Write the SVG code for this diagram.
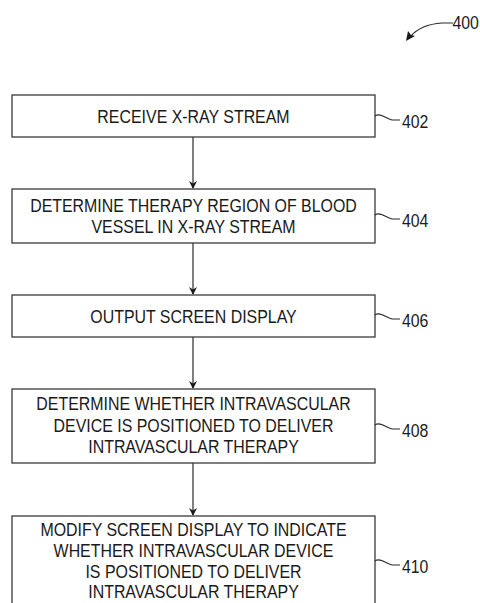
<svg xmlns="http://www.w3.org/2000/svg" width="480" height="603" viewBox="0 0 480 603">
<style>
.box{fill:#fff;stroke:#3a3a3a;stroke-width:1.3}
.t{font-family:"Liberation Sans",Arial,sans-serif;font-size:18px;fill:#1a1a1a;text-anchor:middle}
.lbl{font-family:"Liberation Sans",Arial,sans-serif;font-size:18px;fill:#1a1a1a}
.ln{fill:none;stroke:#2a2a2a;stroke-width:1.2}
</style>
<defs>
<marker id="ah" markerWidth="8" markerHeight="10" refX="7" refY="4" orient="auto" markerUnits="userSpaceOnUse">
<path d="M0,0 L8,4 L0,8 L2.5,4 Z" fill="#1a1a1a"/>
</marker>
</defs>
<rect width="480" height="603" fill="#fff"/>
<g id="ref400">
<path class="ln" d="M453,23 L442,23 C428,24 417,29 411,36"/>
<path d="M406,41 L408,31 L411,35 L415,36 Z" fill="#1a1a1a"/>
<text class="lbl" transform="translate(452.5 28.5) scale(0.88 1)">400</text>
</g>
<g id="connectors">
<line class="ln" x1="193" y1="137" x2="193" y2="188" marker-end="url(#ah)"/>
<line class="ln" x1="193" y1="243" x2="193" y2="294" marker-end="url(#ah)"/>
<line class="ln" x1="193" y1="337" x2="193" y2="388" marker-end="url(#ah)"/>
<line class="ln" x1="193" y1="463" x2="193" y2="515" marker-end="url(#ah)"/>
</g>
<g id="n402">
<rect class="box" x="12" y="95" width="363" height="42"/>
<g transform="translate(193.5 0) scale(0.885 1)">
<text class="t" x="0" y="123">RECEIVE X-RAY STREAM</text>
</g>
<path class="ln" d="M375,116 C380,112 386,119 392,120 L400,120"/>
<text class="lbl" transform="translate(402 128) scale(0.88 1)">402</text>
</g>
<g id="n404">
<rect class="box" x="12" y="189" width="363" height="54"/>
<g transform="translate(193.5 0) scale(0.885 1)">
<text class="t" x="0" y="212">DETERMINE THERAPY REGION OF BLOOD</text>
<text class="t" x="0" y="233">VESSEL IN X-RAY STREAM</text>
</g>
<path class="ln" d="M375,215 C380,211 386,218 392,219 L400,219"/>
<text class="lbl" transform="translate(402 227) scale(0.88 1)">404</text>
</g>
<g id="n406">
<rect class="box" x="12" y="295" width="363" height="42"/>
<g transform="translate(193.5 0) scale(0.885 1)">
<text class="t" x="0" y="323">OUTPUT SCREEN DISPLAY</text>
</g>
<path class="ln" d="M375,315 C380,311 386,318 392,319 L400,319"/>
<text class="lbl" transform="translate(402 327) scale(0.88 1)">406</text>
</g>
<g id="n408">
<rect class="box" x="12" y="389" width="363" height="74"/>
<g transform="translate(193.5 0) scale(0.885 1)">
<text class="t" x="0" y="410">DETERMINE WHETHER INTRAVASCULAR</text>
<text class="t" x="0" y="432">DEVICE IS POSITIONED TO DELIVER</text>
<text class="t" x="0" y="453">INTRAVASCULAR THERAPY</text>
</g>
<path class="ln" d="M375,425 C380,421 386,428 392,429 L400,429"/>
<text class="lbl" transform="translate(402 437) scale(0.88 1)">408</text>
</g>
<g id="n410">
<rect class="box" x="12" y="516" width="363" height="100"/>
<g transform="translate(193.5 0) scale(0.885 1)">
<text class="t" x="0" y="536">MODIFY SCREEN DISPLAY TO INDICATE</text>
<text class="t" x="0" y="557">WHETHER INTRAVASCULAR DEVICE</text>
<text class="t" x="0" y="578">IS POSITIONED TO DELIVER</text>
<text class="t" x="0" y="598">INTRAVASCULAR THERAPY</text>
</g>
<path class="ln" d="M375,561 C380,557 386,564 392,565 L400,565"/>
<text class="lbl" transform="translate(402 573) scale(0.88 1)">410</text>
</g>
</svg>
